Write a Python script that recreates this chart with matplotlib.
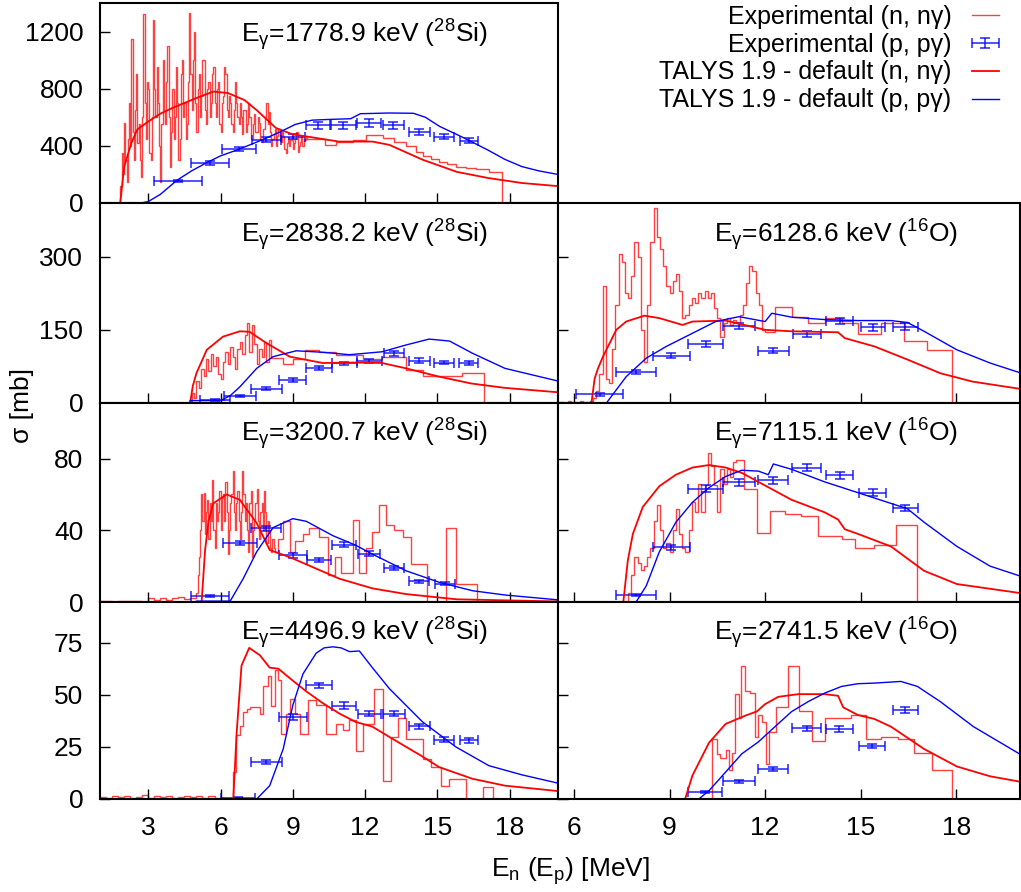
import numpy as np
import matplotlib.pyplot as plt
from matplotlib.legend_handler import HandlerErrorbar
from matplotlib.container import ErrorbarContainer

plt.rcParams['font.family'] = ['Liberation Sans', 'DejaVu Sans']
plt.rcParams['mathtext.fontset'] = 'custom'
plt.rcParams['mathtext.rm'] = 'Liberation Sans'
plt.rcParams['mathtext.it'] = 'Liberation Sans:italic'
plt.rcParams['font.size'] = 19

# ---------------- 1778.9 keV (28Si) ----------------
g1779_tn_e = [1.84, 2.0, 2.3, 2.55, 3.0, 3.5, 4.0, 4.5, 5.0, 5.7, 6.3, 7.0, 7.5, 8.3, 9.0, 9.6,
              10.9, 12.3, 13.0, 14.4, 15.8, 17.1, 18.5, 20.0]
g1779_tn_y = [0, 250, 420, 515, 570, 625, 665, 700, 735, 780, 770, 720, 650, 525, 480, 465,
              430, 430, 407, 302, 218, 175, 140, 118]
g1779_tp_e = [2.7, 3.0, 3.5, 4.2, 4.8, 5.4, 6.0, 6.7, 7.7, 8.5, 9.1, 9.8, 10.5, 11.4, 11.8,
              13.0, 14.0, 14.5, 15.1, 15.8, 16.4, 17.1, 17.8, 18.5, 19.2, 20.0]
g1779_tp_y = [0, 10, 60, 160, 225, 280, 330, 372, 440, 500, 550, 580, 585, 590, 625,
              630, 628, 600, 535, 480, 430, 370, 305, 255, 225, 200]
g1779_pe = [4.25, 5.56, 6.77, 7.9, 9.0, 10.04, 11.1, 12.17, 13.17, 14.24, 15.27, 16.3]
g1779_py = [154, 281, 379, 442, 465, 543, 543, 560, 543, 496, 465, 437]
g1779_pdx = [1.0, 0.8, 0.7, 0.6, 0.5, 0.5, 0.5, 0.5, 0.43, 0.43, 0.41, 0.37]
g1779_pdy = [8, 12, 15, 18, 18, 22, 22, 25, 22, 20, 18, 18]
g1779_n_fine = [0, 120, 350, 200, 560, 300, 150, 450, 700, 400,
                1150, 500, 300, 650, 900, 420, 550, 300, 180, 600,
                1320, 700, 450, 850, 800, 350, 300, 600, 1280, 800,
                600, 950, 700, 400, 150, 550, 1000, 650, 550, 850,
                1100, 600, 250, 500, 800, 450, 600, 950, 700, 300,
                450, 900, 1000, 600, 700, 450, 550, 850, 1330, 900,
                650, 1000, 1200, 700, 500, 800, 900, 600, 750, 1000,
                1000, 650, 550, 800, 850, 600, 700, 900, 950, 700,
                600, 800, 850, 550, 500, 700, 750, 950, 900, 650,
                600, 750, 700, 550, 500, 650, 850, 700, 600, 550,
                700, 600, 480, 650, 650, 500, 550, 700, 600, 450,
                450, 550, 620, 500, 500, 600, 560, 450, 430, 520,
                520, 600, 700, 550, 640, 500, 400, 450, 480, 520,
                400, 470, 520, 450, 430, 500, 470, 380, 350, 420,
                460, 400, 440, 470, 380, 420, 450, 500, 360, 400,
                430, 470, 400, 450, 440, 460]
g1779_n_edges = [9.6, 10.32, 10.8, 11.49, 12.04, 12.73, 13.21, 13.7, 14.1, 14.38, 14.72,
                 15.07, 15.41, 15.76, 16.17, 16.58, 17.13, 17.68]
g1779_n_vals = [445, 405, 430, 440, 475, 455, 430, 400, 360, 330, 305, 290, 275, 255,
                245, 235, 215]

# ---------------- 2838.2 keV (28Si) ----------------
g2838_tn_e = [4.74, 4.85, 5.0, 5.43, 6.1, 6.8, 7.2, 7.9, 8.87, 10.24, 11.6, 12.7, 13.7,
              15.07, 16.4, 17.8, 20.0]
g2838_tn_y = [0, 35, 61, 109, 136, 147, 146, 123, 95, 82, 83, 82, 71, 54, 40, 31, 22]
g2838_tp_e = [4.74, 6.0, 6.4, 6.8, 7.5, 8.18, 9.14, 10.24, 11.35, 12.7, 13.7, 14.65, 15.5,
              16.45, 17.8, 20.0]
g2838_tp_y = [5, 5, 15, 33, 71, 95, 107, 104, 99, 105, 119, 131, 127, 102, 71, 45]
g2838_pe = [5.77, 6.8, 7.9, 9.0, 10.08, 11.14, 12.17, 13.2, 14.24, 15.27, 16.3]
g2838_py = [6, 14, 29, 47, 71, 81, 86, 102, 87, 83, 82]
g2838_pdx = [0.62, 0.67, 0.63, 0.56, 0.54, 0.53, 0.52, 0.43, 0.43, 0.43, 0.39]
g2838_pdy = [2, 2, 3, 4, 4, 4, 4, 5, 5, 4, 4]
g2838_n_fine = [5, 20, 10, 45, 30, 70, 55, 90, 65, 100, 75, 95, 60, 50, 85, 105, 80, 115,
                95, 70, 110, 125, 100, 140, 165, 105, 160, 120, 80, 110, 95, 125, 85, 130]
g2838_n_edges = [8.1, 8.6, 9.0, 9.5, 10.1, 10.8, 11.9, 12.7, 13.7, 14.4, 16.0, 16.93]
g2838_n_vals = [92, 80, 90, 109, 104, 99, 90, 94, 67, 55, 61]

# ---------------- 3200.7 keV (28Si) ----------------
g3201_tn_e = [5.22, 5.36, 5.5, 5.7, 6.25, 6.8, 7.5, 8.04, 8.87, 9.56, 10.93, 12.3, 13.7,
              15.8, 20.0]
g3201_tn_y = [1, 29, 45, 55, 60, 57, 44, 29, 25, 21, 13, 7.6, 4.4, 1.5, 0.3]
g3201_tp_e = [5.0, 6.4, 6.94, 7.5, 8.18, 9.0, 9.56, 10.66, 11.6, 12.3, 13.7, 15.07, 16.45,
              17.8, 20.0]
g3201_tp_y = [0.5, 0.5, 13, 28, 41.5, 46.5, 45, 37, 31.7, 26.7, 17.4, 11, 6.3, 3.9, 1.2]
g3201_pe = [5.56, 6.8, 7.9, 9.0, 10.08, 11.14, 12.17, 13.2, 14.24, 15.3]
g3201_py = [3.5, 32.8, 41, 26, 23.5, 32, 27, 19, 11.5, 10.2]
g3201_pdx = [0.8, 0.7, 0.62, 0.58, 0.5, 0.5, 0.46, 0.43, 0.41, 0.41]
g3201_pdy = [0.5, 1.2, 1.5, 1.2, 1.0, 1.3, 1.2, 1.0, 0.8, 0.8]
g3201_n_low = [0.3, 0.5, 0.2, 0.4, 0.6, 0.3, 0.5, 0.2, 2.0, 1.0, 2.5, 1.2, 2.0, 3.0, 1.5, 2.5]
g3201_n_fine = [5, 15, 25, 40, 60, 45, 61, 38, 50, 57,
                35, 55, 45, 68, 40, 30, 55, 45, 50, 62,
                40, 58, 60, 45, 67, 50, 27, 40, 55, 60,
                73, 50, 40, 55, 62, 45, 35, 50, 73, 60,
                45, 55, 40, 28, 55, 62, 25, 40, 45, 55,
                63, 45, 35, 50, 55, 40, 62, 50, 33, 45,
                40, 30, 28, 35, 30, 28]
g3201_n_edges = [8.3, 8.4, 8.6, 8.87, 9.07, 9.42, 9.69, 10.1, 10.45, 10.73, 11.0, 11.48,
                 11.73, 12.04, 12.3, 12.59, 12.86, 13.2, 13.55, 13.9, 14.58, 15.34, 15.76,
                 16.65]
g3201_n_vals = [28, 35, 45, 28, 34, 38, 41, 36, 15, 25, 16, 46, 16, 30, 39, 54, 43, 40,
                36, 21, 0, 41, 10]

# ---------------- 4496.9 keV (28Si) ----------------
g4497_tn_e = [6.53, 6.67, 6.87, 7.19, 7.63, 8.04, 8.4, 8.87, 9.56, 10.24, 10.93, 11.6,
              12.3, 13.0, 13.7, 14.36, 15.07, 16.45, 17.8, 20.0]
g4497_tn_y = [0, 32, 64, 72.5, 69, 63, 62.5, 58, 51.6, 46, 41, 37, 34.7, 29.8, 25, 20.5,
              15.3, 9.7, 6.4, 3.8]
g4497_tp_e = [6.0, 7.5, 8.04, 8.6, 9.0, 9.42, 9.97, 10.3, 10.66, 11.0, 11.35, 11.76, 12.3,
              13.0, 14.38, 15.76, 17.13, 18.5, 20.0]
g4497_tp_y = [0, 0, 6.4, 24, 45, 60, 70, 72.5, 73, 72.5, 70.7, 71, 63, 53, 37, 25, 16,
              11.6, 7.6]
g4497_pe = [6.73, 7.9, 9.0, 10.08, 11.14, 12.17, 13.2, 14.24, 15.27, 16.3]
g4497_py = [0.6, 17.7, 39.5, 54.5, 44.8, 41, 41, 35, 28.5, 28.2]
g4497_pdx = [0.7, 0.63, 0.58, 0.53, 0.5, 0.48, 0.47, 0.43, 0.41, 0.37]
g4497_pdy = [0.3, 0.8, 1.5, 1.2, 1.5, 1.3, 1.3, 1.2, 1.1, 1.1]
g4497_n_low = [1.0, 0.5, 1.5, 0.8, 1.2, 0.6, 1.0, 1.8, 0.7, 1.3, 0.9, 1.5, 0.6, 1.1,
               1.6, 0.8, 1.2, 0.7, 1.4, 0.5, 0.3, 0.6]
g4497_n_edges = [6.5, 6.66, 6.8, 6.94, 7.08, 7.21, 7.63, 7.76, 7.97, 8.11, 8.25, 8.39,
                 8.52, 8.73, 8.87, 9.07, 9.28, 9.63, 9.97, 10.38, 10.8, 11.07, 11.35,
                 11.62, 11.9, 12.38, 12.73, 13.07, 13.35, 13.7, 14.39, 14.73, 15.15,
                 15.49, 16.18, 16.87, 17.3]
g4497_n_vals = [12.9, 30.6, 35, 41.6, 43, 44.3, 41, 54, 58.8, 44.5, 62, 57, 31, 40.6,
                48, 40.6, 31, 47.6, 45, 31.4, 36, 33, 38, 23, 36, 52.8, 8.4, 29.8, 38.7,
                29, 19.3, 15.3, 6.4, 9.7, 0, 5.6]

# ---------------- 6128.6 keV (16O) ----------------
g6129_tn_e = [5.5, 6.55, 6.65, 6.75, 6.91, 7.33, 7.64, 8.21, 8.68, 9.41, 9.72, 10.76,
              12.0, 12.83, 14.29, 14.5, 15.43, 16.47, 17.5, 18.5, 20.0]
g6129_tn_y = [0, 0, 50, 70, 95, 150, 167, 179, 174, 160, 167, 169, 150, 147, 145, 133,
              116, 89, 61, 44, 29]
g6129_tp_e = [7.02, 7.64, 8.27, 8.9, 9.72, 10.45, 11.18, 12.0, 12.21, 12.83, 13.87,
              14.91, 15.95, 16.47, 16.99, 18.02, 19.06, 20.0]
g6129_tp_y = [0, 54, 92, 116, 143, 167, 177, 167, 184, 176, 171, 169, 169, 165, 147,
              109, 82, 62]
g6129_pe = [6.81, 7.95, 9.06, 10.13, 11.17, 12.26, 13.3, 14.34, 15.38, 16.4]
g6129_py = [17.8, 64, 97, 121, 158, 107, 142, 168, 155, 156]
g6129_pdx = [0.73, 0.63, 0.58, 0.54, 0.5, 0.48, 0.44, 0.42, 0.38, 0.39]
g6129_pdy = [3, 4, 5, 6, 7, 5, 6, 7, 7, 7]
g6129_n_fine = [2, 3, 1, 4, 2, 3, 2, 4, 3, 2, 5,
                10, 25, 60, 240, 50, 40, 110, 200, 305, 290,
                225, 215, 260, 330, 300, 150, 85, 200, 330, 400,
                340, 315, 280, 240, 225, 250, 265, 230, 175, 180,
                200, 215, 205, 225, 215, 230, 215, 225, 195, 175,
                135, 165, 175, 160, 170, 165, 180, 200, 245, 280,
                270, 225, 200, 150]
g6129_n_edges = [12.0, 12.31, 12.83, 13.35, 13.87, 14.4, 14.91, 15.64, 16.36, 17.09, 17.87]
g6129_n_vals = [145, 197, 176, 164, 174, 165, 142, 165, 128, 109]

# ---------------- 7115.1 keV (16O) ----------------
g7115_tn_e = [7.55, 7.69, 7.85, 8.16, 8.68, 9.2, 9.72, 10.24, 10.76, 11.27, 11.79, 12.83,
              13.87, 14.29, 14.5, 14.91, 15.95, 16.99, 18.02, 20.0]
g7115_tn_y = [0, 23, 38, 53, 64.6, 71, 75, 76.4, 75, 72, 67, 57, 50, 46, 40.6, 38, 31,
              17.4, 10, 5]
g7115_tp_e = [7.95, 8.27, 8.68, 9.2, 9.72, 10.24, 10.76, 11.27, 11.79, 12.1, 12.26,
              12.83, 13.87, 14.91, 15.95, 16.47, 16.99, 18.02, 19.06, 20.0]
g7115_tp_y = [0, 9, 28, 44.5, 55.6, 63.8, 70, 73.5, 73, 71, 77, 74, 67, 61, 55, 52,
              44.5, 31, 20, 14.5]
g7115_pe = [7.95, 9.06, 10.13, 11.17, 12.26, 13.3, 14.34, 15.38, 16.4]
g7115_py = [4, 30.4, 63.2, 66.8, 67.8, 74.9, 70.6, 61, 52.3]
g7115_pdx = [0.64, 0.58, 0.54, 0.5, 0.47, 0.46, 0.42, 0.42, 0.4]
g7115_pdy = [0.5, 1.5, 2, 2, 2, 2, 2, 2, 1.8]
g7115_n_fine = [5, 15, 25, 22, 18, 20, 25, 30, 45, 54, 40, 30, 33, 28, 40, 52, 38, 30,
                28, 40, 56, 50, 66, 50, 65, 83, 76, 65, 50, 74, 66, 74, 70, 78]
g7115_n_edges = [11.1, 11.33, 11.74, 12.16, 12.62, 13.14, 13.66, 14.4, 14.81, 15.43,
                 16.1, 16.78]
g7115_n_vals = [79, 63, 38.5, 51, 49, 48, 37, 35, 30, 32, 43]

# ---------------- 2741.5 keV (16O) ----------------
g2742_tn_e = [9.49, 9.72, 10.24, 10.76, 11.38, 11.74, 12.0, 12.41, 13.04, 13.87, 14.29,
              14.45, 14.91, 15.43, 15.95, 16.99, 18.02, 19.06, 20.0]
g2742_tn_y = [0, 11.3, 27, 36, 40, 42, 45.5, 49, 50.3, 50.3, 49.5, 44, 40.3, 38.4, 34.7,
              24, 15.6, 10.9, 8.3]
g2742_tp_e = [9.92, 10.24, 10.76, 11.27, 11.79, 12.31, 12.83, 13.35, 13.87, 14.4, 14.91,
              15.43, 16.26, 16.78, 17.5, 18.54, 20.0]
g2742_tp_y = [0, 4, 12.9, 21.7, 27.4, 34.7, 41.9, 46.7, 50.8, 54, 55.3, 55.6, 56.4, 54,
              46.7, 34.7, 21.5]
g2742_pe = [10.11, 11.17, 12.26, 13.3, 14.33, 15.36, 16.4]
g2742_py = [3.2, 8.4, 14.5, 33.9, 33.5, 25.3, 42.7]
g2742_pdx = [0.53, 0.5, 0.47, 0.46, 0.42, 0.4, 0.39]
g2742_pdy = [0.4, 0.8, 1.0, 1.2, 1.3, 1.0, 1.3]
g2742_n_edges = [10.32, 10.5, 10.6, 10.76, 10.86, 10.96, 11.07, 11.17, 11.25, 11.36,
                 11.53, 11.69, 11.79, 11.9, 12.02, 12.13, 12.34, 12.71, 13.06, 13.46,
                 13.87, 14.29, 14.7, 15.17, 15.64, 16.16, 16.67, 17.25, 17.87]
g2742_n_vals = [29, 21.7, 19.7, 23.4, 13.7, 22, 50.3, 38.7, 63.7, 52, 50.7, 29.8, 40.3,
                37.1, 17, 32, 44.3, 64, 42.2, 27.7, 38.7, 39, 40.5, 29, 29.8, 29, 22.2,
                13.7]


def bins(start, width, vals):
    # regular bin edges for the finely binned part of a spectrum
    return np.round(start + width * np.arange(len(vals) + 1), 3)


def join(*parts):
    edges = [np.asarray(p[0], float) for p in parts]
    vals = [np.asarray(p[1], float) for p in parts]
    e = np.concatenate([x[:-1] for x in edges[:-1]] + [edges[-1]])
    return e, np.concatenate(vals)


panels = [
    dict(col=0, row=0, title=r'E$_\mathregular{γ}$=1778.9 keV ($^\mathregular{28}$Si)',
         n=join((bins(1.8, 0.05, g1779_n_fine), g1779_n_fine), (g1779_n_edges, g1779_n_vals)),
         tn=(g1779_tn_e, g1779_tn_y), tp=(g1779_tp_e, g1779_tp_y),
         p=(g1779_pe, g1779_py, g1779_pdx, g1779_pdy), ylim=1400, yt=[0, 400, 800, 1200]),
    dict(col=0, row=1, title=r'E$_\mathregular{γ}$=2838.2 keV ($^\mathregular{28}$Si)',
         n=join((bins(4.7, 0.1, g2838_n_fine), g2838_n_fine), (g2838_n_edges, g2838_n_vals)),
         tn=(g2838_tn_e, g2838_tn_y), tp=(g2838_tp_e, g2838_tp_y),
         p=(g2838_pe, g2838_py, g2838_pdx, g2838_pdy), ylim=410, yt=[0, 150, 300]),
    dict(col=0, row=2, title=r'E$_\mathregular{γ}$=3200.7 keV ($^\mathregular{28}$Si)',
         n=join((bins(1.0, 0.25, g3201_n_low), g3201_n_low),
                (bins(5.0, 0.05, g3201_n_fine), g3201_n_fine), (g3201_n_edges, g3201_n_vals)),
         tn=(g3201_tn_e, g3201_tn_y), tp=(g3201_tp_e, g3201_tp_y),
         p=(g3201_pe, g3201_py, g3201_pdx, g3201_pdy), ylim=111, yt=[0, 40, 80]),
    dict(col=0, row=3, title=r'E$_\mathregular{γ}$=4496.9 keV ($^\mathregular{28}$Si)',
         n=join((bins(1.0, 0.25, g4497_n_low), g4497_n_low), (g4497_n_edges, g4497_n_vals)),
         tn=(g4497_tn_e, g4497_tn_y), tp=(g4497_tp_e, g4497_tp_y),
         p=(g4497_pe, g4497_py, g4497_pdx, g4497_pdy), ylim=94.5, yt=[0, 25, 50, 75]),
    dict(col=1, row=1, title=r'E$_\mathregular{γ}$=6128.6 keV ($^\mathregular{16}$O)',
         n=join((bins(5.5, 0.1, g6129_n_fine), g6129_n_fine), (g6129_n_edges, g6129_n_vals)),
         tn=(g6129_tn_e, g6129_tn_y), tp=(g6129_tp_e, g6129_tp_y),
         p=(g6129_pe, g6129_py, g6129_pdx, g6129_pdy), ylim=410, yt=[0, 150, 300]),
    dict(col=1, row=2, title=r'E$_\mathregular{γ}$=7115.1 keV ($^\mathregular{16}$O)',
         n=join((bins(7.7, 0.1, g7115_n_fine), g7115_n_fine), (g7115_n_edges, g7115_n_vals)),
         tn=(g7115_tn_e, g7115_tn_y), tp=(g7115_tp_e, g7115_tp_y),
         p=(g7115_pe, g7115_py, g7115_pdx, g7115_pdy), ylim=111, yt=[0, 40, 80]),
    dict(col=1, row=3, title=r'E$_\mathregular{γ}$=2741.5 keV ($^\mathregular{16}$O)',
         n=(np.array(g2742_n_edges), np.array(g2742_n_vals)),
         tn=(g2742_tn_e, g2742_tn_y), tp=(g2742_tp_e, g2742_tp_y),
         p=(g2742_pe, g2742_py, g2742_pdx, g2742_pdy), ylim=94.5, yt=[0, 25, 50, 75]),
]

W, H = 1021, 892
col_x = [(100, 558), (558, 1020)]
row_y = [(3, 203), (203, 403), (403, 602), (602, 799)]
col_xlim = [(1, 20), (5.5, 20)]
col_xt = [[3, 6, 9, 12, 15, 18], [6, 9, 12, 15, 18]]
title_x = [0.847, 0.866]

fig = plt.figure(figsize=(W / 100, H / 100), dpi=100)
handles = None

for pn in panels:
    c, r = pn['col'], pn['row']
    x0, x1 = col_x[c]
    y0, y1 = row_y[r]
    ax = fig.add_axes([x0 / W, 1 - y1 / H, (x1 - x0) / W, (y1 - y0) / H])

    ne, nv = pn['n']
    h1 = ax.stairs(nv, ne, color='red', lw=1.0, alpha=0.75, baseline=0)
    pe, py, pdx, pdy = pn['p']
    h2 = ax.errorbar(pe, py, xerr=pdx, yerr=pdy, fmt='none', ecolor='blue',
                     elinewidth=1.2, capsize=3.5, capthick=1.2, alpha=0.8)
    h3, = ax.plot(pn['tn'][0], pn['tn'][1], color='red', lw=1.3)
    h4, = ax.plot(pn['tp'][0], pn['tp'][1], color='blue', lw=1.0)
    if handles is None:
        handles = [h1, h2, h3, h4]

    ax.set_xlim(*col_xlim[c])
    ax.set_ylim(0, pn['ylim'])
    ax.set_xticks(col_xt[c])
    ax.set_yticks(pn['yt'])
    ax.tick_params(direction='in', length=7, width=1.0, labelsize=19,
                   labelbottom=(r == 3), labelleft=(c == 0))
    ax.tick_params(axis='y', pad=12)
    ax.tick_params(axis='x', pad=12)
    for s in ax.spines.values():
        s.set_linewidth(1.5)

    ax.text(title_x[c], 0.805, pn['title'], transform=ax.transAxes,
            ha='right', va='baseline', fontsize=19)

fig.legend(handles,
           ['Experimental (n, nγ)', 'Experimental (p, pγ)',
            'TALYS 1.9 - default (n, nγ)', 'TALYS 1.9 - default (p, pγ)'],
           handler_map={ErrorbarContainer: HandlerErrorbar(xerr_size=0.55, yerr_size=0.2)},
           loc='upper right', bbox_to_anchor=(999 / W, 1 - 5 / H),
           markerfirst=False, frameon=False, fontsize=18,
           handlelength=1.1, handletextpad=0.8, labelspacing=0.15,
           borderpad=0, borderaxespad=0)

fig.text(22 / W, 1 - 405 / H, 'σ [mb]', rotation=90, ha='center', va='center', fontsize=19)
fig.text(570 / W, 1 - 877 / H, r'E$_\mathregular{n}$ (E$_\mathregular{p}$) [MeV]',
         ha='center', va='baseline', fontsize=19)

fig.savefig('out.png', dpi=100)
